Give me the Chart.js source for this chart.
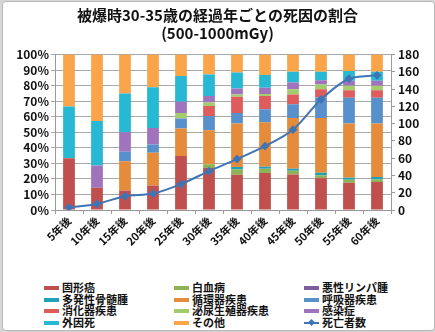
<!DOCTYPE html>
<html lang="ja">
<head>
<meta charset="utf-8">
<script src="https://cdn.jsdelivr.net/npm/chart.js@4.4.1/dist/chart.umd.min.js"></script>
<style>
  html, body { margin: 0; padding: 0; background: #d6d6d6; }
  #frame {
    position: absolute; left: 2px; top: 1px; width: 431px; height: 328px;
    background: #fff; border: 1px solid #b8b8b8; border-radius: 4px;
  }
  #wrap { position: absolute; left: 0; top: 0; width: 435px; height: 270px; }
  #legend {
    position: absolute; left: 0; top: 281px; width: 435px;
    font-family: "Noto Sans CJK JP", sans-serif; font-weight: bold; font-size: 11px; color: #111;
  }
  .item { position: absolute; height: 12px; line-height: 12px; white-space: nowrap; }
  .sw { display: inline-block; width: 15px; height: 4px; vertical-align: middle; margin-right: 3px; position: relative; top: -1px; }
  .mk { position: absolute; left: 5px; top: -2px; width: 5px; height: 5px; background: #3f74b5; transform: rotate(45deg); }
</style>
</head>
<body>
<div id="frame"></div>
<div id="wrap"><canvas id="chart" width="435" height="270"></canvas></div>
<div id="legend"></div>
<script>
// categories
const years = ['5年後', '10年後', '15年後', '20年後', '25年後', '30年後', '35年後', '40年後', '45年後', '50年後', '55年後', '60年後'];

// share of deaths per cause (%)
const solidCancer   = [33.3, 14.3, 12.5, 15.8, 34.7, 27.0, 22.7, 23.8, 22.9, 20.5, 17.5, 18.0];
const leukemia      = [0, 0, 0, 0, 0, 2.4, 3.4, 2.8, 2.4, 1.8, 2.0, 1.7];
const lymphoma      = [0, 0, 0, 0, 0, 0, 0, 0, 0, 0, 0, 0];
const myeloma       = [0, 0, 0, 0, 0, 0, 1.5, 1.3, 1.3, 1.7, 1.3, 1.5];
const circulatory   = [0, 0, 18.8, 21.1, 17.7, 21.9, 28.0, 28.6, 32.6, 35.2, 34.8, 34.4];
const respiratory   = [0, 0, 6.2, 5.3, 6.4, 9.2, 6.9, 8.3, 8.9, 13.2, 16.6, 16.6];
const digestive     = [0, 0, 0, 0, 0, 6.5, 10.3, 8.6, 6.2, 5.3, 4.9, 4.9];
const urogenital    = [0, 0, 0, 0, 3.7, 2.2, 1.5, 1.3, 3.4, 3.1, 2.8, 2.8];
const infection     = [0, 14.3, 12.5, 10.5, 7.1, 4.2, 3.9, 3.9, 4.4, 2.7, 3.2, 3.2];
const externalCause = [33.3, 28.6, 25.0, 26.3, 16.7, 13.8, 10.3, 8.2, 6.8, 5.4, 6.3, 5.8];
const otherCause    = [33.4, 42.8, 25.0, 21.0, 13.7, 12.8, 11.5, 13.2, 11.1, 11.1, 10.6, 11.1];

// number of deaths (right axis)
const deaths = [3, 7, 16, 19, 30, 45, 59, 74, 93, 128, 152, 156];

const pctTicks = [0, 10, 20, 30, 40, 50, 60, 70, 80, 90, 100];
const countTicks = [0, 20, 40, 60, 80, 100, 120, 140, 160, 180];

const causes = [
  ['固形癌', solidCancer, '#c0504d'],
  ['白血病', leukemia, '#8fb257'],
  ['悪性リンパ腫', lymphoma, '#7d5d9e'],
  ['多発性骨髄腫', myeloma, '#1fa2b6'],
  ['循環器疾患', circulatory, '#e48b3c'],
  ['呼吸器疾患', respiratory, '#5890cc'],
  ['消化器疾患', digestive, '#de5c5c'],
  ['泌尿生殖器疾患', urogenital, '#a3cd6a'],
  ['感染症', infection, '#9f74bd'],
  ['外因死', externalCause, '#27b9d3'],
  ['その他', otherCause, '#fba54b']
];
const lineColor = '#3f74b5';

const FONT = '"Noto Sans CJK JP", sans-serif';

const datasets = causes.map(([label, data, color]) => ({
  type: 'bar',
  label,
  data,
  backgroundColor: color,
  yAxisID: 'y',
  order: 1,
  barPercentage: 0.42,
  categoryPercentage: 1
}));

datasets.push({
  type: 'line',
  label: '死亡者数',
  data: deaths,
  yAxisID: 'y1',
  order: 0,
  borderColor: lineColor,
  backgroundColor: lineColor,
  borderWidth: 2,
  pointStyle: 'rectRot',
  pointRadius: 3,
  tension: 0.3,
  fill: false
});

new Chart(document.getElementById('chart'), {
  data: { labels: years, datasets },
  options: {
    responsive: false,
    animation: false,
    layout: { padding: { left: 0, right: 0, top: 0, bottom: 0 } },
    plugins: {
      legend: { display: false },
      tooltip: { enabled: false },
      title: {
        display: true,
        text: ['被爆時30-35歳の経過年ごとの死因の割合', '(500-1000mGy)'],
        color: '#111',
        font: { family: FONT, size: 15, weight: 'bold', lineHeight: 1.22 },
        padding: { top: 6, bottom: 12 }
      }
    },
    scales: {
      x: {
        stacked: true,
        grid: { display: true, drawOnChartArea: false, drawTicks: true, tickLength: 4, color: '#9a9a9a', offset: true },
        border: { display: true, color: '#9a9a9a' },
        ticks: {
          color: '#111', minRotation: 45, maxRotation: 45, padding: 0, autoSkip: false,
          font: { family: FONT, size: 11, weight: 'bold' }
        },
        afterFit: (s) => { s.height = 60; }
      },
      y: {
        stacked: true,
        position: 'left',
        min: 0, max: 100,
        afterBuildTicks: (s) => { s.ticks = pctTicks.map(v => ({ value: v })); },
        grid: { color: '#a8a8a8', tickLength: 4 },
        border: { display: true, color: '#9a9a9a' },
        ticks: {
          color: '#111', padding: 2, autoSkip: false,
          font: { family: FONT, size: 12, weight: 'bold' },
          callback: (v) => v + '%'
        },
        afterFit: (s) => { s.width = 55; }
      },
      y1: {
        position: 'right',
        min: 0, max: 180,
        afterBuildTicks: (s) => { s.ticks = countTicks.map(v => ({ value: v })); },
        grid: { drawOnChartArea: false, tickLength: 4, color: '#9a9a9a' },
        border: { display: true, color: '#9a9a9a' },
        ticks: {
          color: '#111', padding: 3, autoSkip: false,
          font: { family: FONT, size: 12, weight: 'bold' }
        },
        afterFit: (s) => { s.width = 44; }
      }
    }
  }
});

// custom 3-column legend, same order as the datasets
const legendEl = document.getElementById('legend');
const colX = [44, 174, 304];
const rowY = [0, 11.5, 23, 34.5];
const legendItems = causes.map(c => [c[0], c[2]]).concat([['死亡者数', lineColor]]);
legendItems.forEach(([label, color], i) => {
  const el = document.createElement('div');
  el.className = 'item';
  el.style.left = colX[i % 3] + 'px';
  el.style.top = rowY[Math.floor(i / 3)] + 'px';
  const sw = document.createElement('span');
  sw.className = 'sw';
  sw.style.background = color;
  if (label === '死亡者数') {
    sw.style.height = '2px';
    const mk = document.createElement('span');
    mk.className = 'mk';
    sw.appendChild(mk);
  }
  el.appendChild(sw);
  el.appendChild(document.createTextNode(label));
  legendEl.appendChild(el);
});
</script>
</body>
</html>
